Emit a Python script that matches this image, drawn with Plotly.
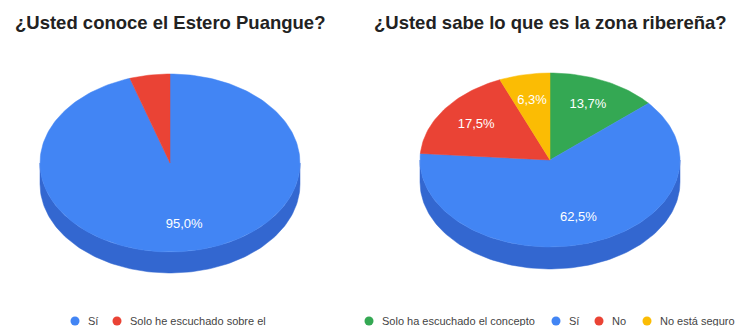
import numpy as np
import plotly.graph_objects as go

# --- data -------------------------------------------------------------
title_1 = "¿Usted conoce el Estero Puangue?"
labels_1 = ["Sí", "Solo he escuchado sobre el"]
values_1 = [95.0, 5.0]

title_2 = "¿Usted sabe lo que es la zona ribereña?"
labels_2 = ["Solo ha escuchado el concepto", "Sí", "No", "No está seguro"]
values_2 = [13.7, 62.5, 17.5, 6.3]

# --- style ------------------------------------------------------------
TOP = {"Sí": "#4285F4", "No": "#EA4335", "Solo he escuchado sobre el": "#EA4335",
       "Solo ha escuchado el concepto": "#34A853", "No está seguro": "#FBBC04"}
SIDE = {"#4285F4": "#3367D0", "#EA4335": "#C5352A", "#34A853": "#2A8A44", "#FBBC04": "#D39E05"}
W, H = 736, 326
FONT = "Liberation Sans, Arial, sans-serif"

pies = [
    dict(title=title_1, labels=labels_1, values=values_1, cx=170, cy=163, rx=130, ry=89, depth=21,
         legend_dots=[75, 117], legend_text=[86, 128]),
    dict(title=title_2, labels=labels_2, values=values_2, cx=550, cy=160, rx=130, ry=87, depth=22,
         legend_dots=[369, 556, 599, 647], legend_text=[380, 567, 610, 658]),
]
LEGEND_Y = 321
LABEL_MIN = 6.0   # slices smaller than this (in %) are left unlabeled

fig = go.Figure()
annotations = []


def ellipse_pts(p, a0, a1, dy=0.0):
    # angles in degrees, clockwise from 12 o'clock
    t = np.radians(np.linspace(a0, a1, max(int(abs(a1 - a0) / 1.5) + 2, 3)))
    return p["cx"] + p["rx"] * np.sin(t), p["cy"] - p["ry"] * np.cos(t) + dy


for p in pies:
    vals = np.array(p["values"], dtype=float)
    frac = vals / vals.sum()
    ends = np.cumsum(frac) * 360.0
    starts = ends - frac * 360.0

    # extruded rim: only the front half (90°..270°) is visible
    for lab, a0, a1 in zip(p["labels"], starts, ends):
        lo, hi = max(a0, 90.0), min(a1, 270.0)
        if hi <= lo:
            continue
        xt, yt = ellipse_pts(p, lo, hi)
        xb, yb = ellipse_pts(p, hi, lo, dy=p["depth"])
        fig.add_trace(go.Scatter(
            x=np.r_[xt, xb, xt[:1]], y=np.r_[yt, yb, yt[:1]],
            mode="lines", fill="toself", fillcolor=SIDE[TOP[lab]],
            line=dict(width=0.5, color=SIDE[TOP[lab]]), hoverinfo="skip", showlegend=False))

    # top face slices
    for lab, v, a0, a1 in zip(p["labels"], vals, starts, ends):
        xa, ya = ellipse_pts(p, a0, a1)
        fig.add_trace(go.Scatter(
            x=np.r_[p["cx"], xa, p["cx"]], y=np.r_[p["cy"], ya, p["cy"]],
            mode="lines", fill="toself", fillcolor=TOP[lab],
            line=dict(width=0.5, color=TOP[lab]), name=lab,
            hovertemplate=f"{lab}: {v:.1f}%<extra></extra>", showlegend=False))

    # percentage labels at 70% radius
    mids = np.radians((starts + ends) / 2)
    keep = vals >= LABEL_MIN
    fig.add_trace(go.Scatter(
        x=(p["cx"] + 0.7 * p["rx"] * np.sin(mids))[keep],
        y=(p["cy"] - 0.7 * p["ry"] * np.cos(mids))[keep],
        mode="text",
        text=[f"{v:.1f}%".replace(".", ",") for v in vals[keep]],
        textfont=dict(family=FONT, size=13, color="white"),
        hoverinfo="skip", showlegend=False))

    # chart title
    annotations.append(dict(
        x=p["cx"], y=22, xref="x", yref="y", text=f"<b>{p['title']}</b>", showarrow=False,
        font=dict(family=FONT, size=18.5, color="#222222"), xanchor="center", yanchor="middle"))

    # legend row
    fig.add_trace(go.Scatter(
        x=p["legend_dots"], y=[LEGEND_Y] * len(p["labels"]), mode="markers",
        marker=dict(size=9, color=[TOP[l] for l in p["labels"]]),
        hoverinfo="skip", showlegend=False))
    for lab, tx in zip(p["labels"], p["legend_text"]):
        annotations.append(dict(
            x=tx, y=LEGEND_Y, xref="x", yref="y", text=lab, showarrow=False,
            font=dict(family=FONT, size=11, color="#444444"), xanchor="left", yanchor="middle"))

fig.update_layout(
    width=W, height=H, margin=dict(l=0, r=0, t=0, b=0),
    paper_bgcolor="white", plot_bgcolor="white",
    xaxis=dict(range=[0, W], visible=False, fixedrange=True),
    yaxis=dict(range=[H, 0], visible=False, fixedrange=True),
    annotations=annotations, showlegend=False,
)

fig.write_html("out.html")
